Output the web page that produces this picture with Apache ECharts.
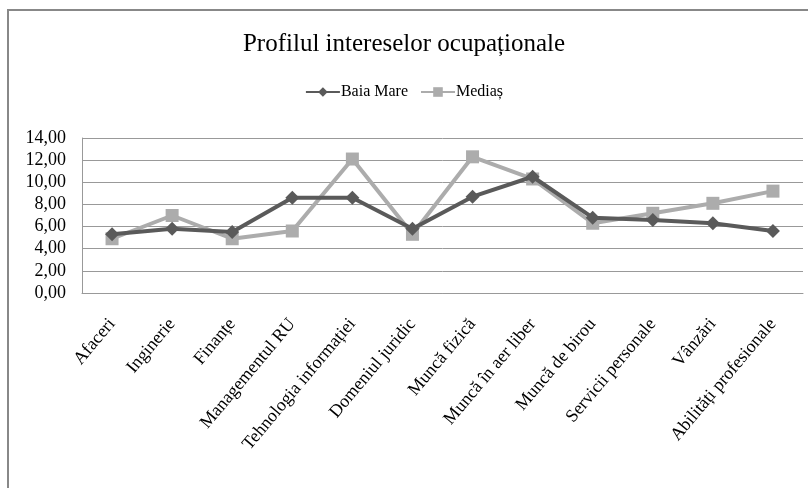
<!DOCTYPE html>
<html>
<head>
<meta charset="utf-8">
<script src="https://cdn.jsdelivr.net/npm/echarts@6/dist/echarts.min.js"></script>
<style>
  html, body { margin: 0; padding: 0; background: #fff; }
  #chart { width: 808px; height: 488px; }
</style>
</head>
<body>
<div id="chart"></div>
<script>
var categories = ['Afaceri', 'Inginerie', 'Finanțe', 'Managementul RU', 'Tehnologia informației',
  'Domeniul juridic', 'Muncă fizică', 'Muncă în aer liber', 'Muncă de birou',
  'Servicii personale', 'Vânzări', 'Abilități profesionale'];
var baiaMare = [5.3, 5.8, 5.5, 8.6, 8.6, 5.8, 8.7, 10.5, 6.8, 6.6, 6.3, 5.6];
var medias = [4.9, 7.0, 4.9, 5.6, 12.1, 5.3, 12.3, 10.3, 6.3, 7.2, 8.1, 9.2];
var yTicks = { min: 0, max: 14, interval: 2 };

var font = 'Liberation Serif';
var chart = echarts.init(document.getElementById('chart'));

chart.setOption({
  backgroundColor: '#ffffff',
  animation: false,
  textStyle: { fontFamily: font },
  title: {
    text: 'Profilul intereselor ocupaționale',
    left: 'center',
    top: 27,
    textStyle: { fontFamily: font, fontSize: 25, fontWeight: 'normal', color: '#000' }
  },
  legend: {
    top: 79,
    left: 'center',
    itemWidth: 34,
    itemHeight: 12,
    itemGap: 12,
    textStyle: { fontFamily: font, fontSize: 16, color: '#000', padding: [0, 0, 0, -4] },
    data: ['Baia Mare', 'Mediaș']
  },
  graphic: [{
    type: 'rect',
    shape: { x: 8, y: 10, width: 820, height: 500 },
    style: { fill: null, stroke: '#888888', lineWidth: 2 },
    silent: true
  }],
  grid: { left: 82, right: 5, top: 138, bottom: 195 },
  xAxis: {
    type: 'category',
    data: categories,
    boundaryGap: true,
    axisLine: { lineStyle: { color: '#999999', width: 1 } },
    axisTick: { show: false },
    axisLabel: {
      rotate: 50,
      interval: 0,
      margin: 28,
      fontFamily: font,
      fontSize: 18,
      color: '#000'
    }
  },
  yAxis: {
    type: 'value',
    min: yTicks.min,
    max: yTicks.max,
    interval: yTicks.interval,
    axisLine: { show: true, lineStyle: { color: '#999999', width: 1 } },
    axisTick: { show: false },
    splitLine: { lineStyle: { color: '#999999', width: 1 } },
    axisLabel: {
      margin: 16,
      fontFamily: font,
      fontSize: 18,
      color: '#000',
      formatter: function (v) { return v.toFixed(2).replace('.', ','); }
    }
  },
  series: [{
    name: 'Baia Mare',
    type: 'line',
    data: baiaMare,
    symbol: 'diamond',
    symbolSize: 14,
    z: 3,
    lineStyle: { color: '#5a5a5a', width: 4 },
    itemStyle: { color: '#5a5a5a' }
  }, {
    name: 'Mediaș',
    type: 'line',
    data: medias,
    symbol: 'rect',
    symbolSize: 13,
    z: 2,
    lineStyle: { color: '#acacac', width: 4 },
    itemStyle: { color: '#acacac' }
  }]
});
</script>
</body>
</html>
